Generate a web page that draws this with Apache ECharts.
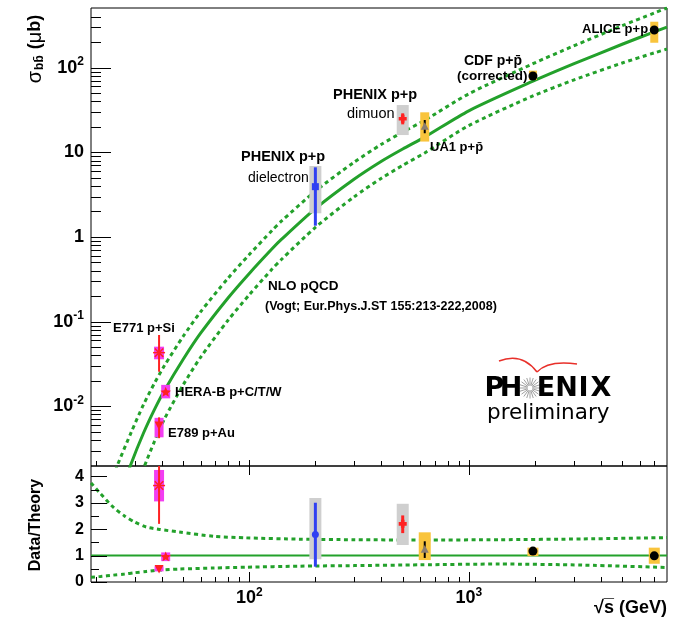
<!DOCTYPE html>
<html>
<head>
<meta charset="utf-8">
<script src="https://cdn.jsdelivr.net/npm/echarts@6/dist/echarts.min.js"></script>
<style>
  html, body { margin: 0; padding: 0; background: #fff; }
  #chart { width: 679px; height: 619px; }
</style>
</head>
<body>
<div id="chart"></div>
<script>
// ---- NLO pQCD b-bbar cross section (μb) vs sqrt(s) (GeV): central value and uncertainty band
const nloSqrtS   = [22, 25, 29, 33, 37, 41, 50, 60, 80, 100, 127, 140, 200, 300, 400, 500, 630, 1000, 1960, 3000, 5000, 7000, 8000];
const nloCentral = [0.000263, 0.000719, 0.002128, 0.004864, 0.009204, 0.01528, 0.03589, 0.07295, 0.1905, 0.3715, 0.7261, 0.9354, 2.163, 4.808, 7.852, 10.96, 15.14, 30.90, 69.18, 110.7, 189.2, 264.9, 302.0];
const nloUpper   = [0.00081, 0.001977, 0.004955, 0.01054, 0.01879, 0.03006, 0.06714, 0.1306, 0.3258, 0.6209, 1.194, 1.535, 3.483, 7.638, 12.45, 17.34, 23.93, 49.09, 111.4, 180.3, 313.3, 442.6, 507.0];
const nloLower   = [0.00006, 0.000201, 0.000703, 0.001849, 0.003864, 0.007031, 0.01795, 0.03793, 0.1038, 0.2080, 0.4178, 0.5420, 1.297, 2.979, 4.943, 7.015, 9.840, 20.70, 46.34, 71.45, 113.5, 149.6, 166.0];

// ---- Band of the theory divided by its central value
const ratioSqrtS = [19, 21, 24, 27, 30, 34, 39, 48, 69, 97, 170, 300, 600, 1380, 3300, 8000];
const ratioUpper = [3.75, 3.34, 2.83, 2.50, 2.27, 2.08, 1.99, 1.89, 1.73, 1.67, 1.62, 1.60, 1.59, 1.60, 1.63, 1.68];
const ratioLower = [0.18, 0.21, 0.26, 0.30, 0.35, 0.40, 0.45, 0.49, 0.53, 0.56, 0.60, 0.62, 0.65, 0.68, 0.64, 0.55];
const ratioUnitySqrtS = [19, 8000];
const ratioUnity      = [1, 1];

// ---- Measurements
const expNames    = ['E771 p+Si', 'E789 p+Au', 'HERA-B p+C/T/W', 'PHENIX p+p dielectron', 'PHENIX p+p dimuon', 'UA1 p+pbar', 'CDF p+pbar', 'ALICE p+p'];
const expSqrtS    = [38.8, 38.8, 41.6, 200, 500, 630, 1960, 7000];
const sigma       = [0.043, 0.0060, 0.0146, 3.93, 24.9, 20.1, 79.8, 278.6];
const sigmaStatLo = [0.0256, 0.0042, null, 1.36, 21.4, 16.8, null, null];
const sigmaStatHi = [0.0695, 0.0074, null, 6.65, 28.9, 24.1, null, null];
const sigmaSysLo  = [0.0359, 0.0043, 0.0124, 1.905, 16.0, 13.4, 71.6, 197];
const sigmaSysHi  = [0.0506, 0.0073, 0.0179, 6.9, 36.2, 29.7, 92.2, 349];
const ratio       = [3.65, 0.51, 0.95, 1.80, 2.20, 1.23, 1.17, 0.99];
const ratioStatLo = [2.2, 0.42, null, 0.58, 1.85, 0.91, null, null];
const ratioStatHi = [5.9, 0.60, null, 3.0, 2.52, 1.54, null, null];
const ratioSysLo  = [3.05, 0.40, 0.79, 0.86, 1.40, 0.83, 0.98, 0.69];
const ratioSysHi  = [4.24, 0.60, 1.12, 3.18, 2.96, 1.88, 1.30, 1.30];

// ---- Axis ranges and tick positions
const X_MIN = 19, X_MAX = 8000;
const Y_MIN = 0.00197, Y_MAX = 507;
const R_MIN = 0, R_MAX = 4.39;
const xMajorTicks = [100, 1000];
const xMinorTicks = [20, 30, 40, 50, 60, 70, 80, 90, 200, 300, 400, 500, 600, 700, 800, 900, 2000, 3000, 4000, 5000, 6000, 7000];
const yMajorTicks = [0.01, 0.1, 1, 10, 100];
const yMinorTicks = [0.003, 0.004, 0.005, 0.006, 0.007, 0.008, 0.009,
                     0.02, 0.03, 0.04, 0.05, 0.06, 0.07, 0.08, 0.09,
                     0.2, 0.3, 0.4, 0.5, 0.6, 0.7, 0.8, 0.9,
                     2, 3, 4, 5, 6, 7, 8, 9,
                     20, 30, 40, 50, 60, 70, 80, 90, 200, 300, 400];
const rMajorTicks = [0, 1, 2, 3, 4];
const rMinorTicks = [0.5, 1.5, 2.5, 3.5];

// ---- Styles
const GREEN = '#23a12b';
const DOTS = [4, 3.5];
const MAGENTA = '#f23ef2', GREY = '#cfcfcf', GOLD = '#f9c43c', RED = '#ff2222', BLUE = '#3040f2';
const markerShape      = ['asterisk', 'triangleDown', 'star', 'square', 'cross', 'triangleUp', 'circle', 'circle'];
const markerShapeRatio = ['asterisk', 'triangleDown', 'star', 'circle', 'cross', 'triangleUp', 'circle', 'circle'];
const markerSize  = [12, 9, 11, 7, 8, 8, 9, 9];
const markerColor = [RED, RED, RED, BLUE, RED, '#8b7d70', '#000', '#000'];
const statColor   = [RED, RED, RED, BLUE, RED, '#000', '#000', '#000'];
const statWidth   = [2, 2, 2, 3, 3, 2, 2, 2];
const boxColor    = [MAGENTA, MAGENTA, MAGENTA, GREY, GREY, GOLD, GOLD, GOLD];
const boxWidthTop   = [10, 9, 9, 12, 12, 9, 8, 8];
const boxWidthRatio = [10, 9, 9, 12, 12, 12, 11, 11];

const SANS = '"Liberation Sans", Arial, sans-serif';
const LOGO = '"DejaVu Sans", sans-serif';
const bold = s => `bold ${s}px ${SANS}`;
const plain = s => `${s}px ${SANS}`;
const richBold = s => ({ fontSize: s, fontWeight: 'bold', fontFamily: SANS, color: '#000' });

const zip = (a, b) => a.map((v, i) => [v, b[i]]);

function powerLabel(v) {
  const l = Math.log10(v);
  const e = Math.round(l);
  if (Math.abs(l - e) > 1e-6) return '';
  if (e === 0) return '{b|1}';
  if (e === 1) return '{b|10}';
  return '{b|10}{s|' + e + '}';
}
const powerRich = {
  b: richBold(18),
  s: Object.assign(richBold(12), { padding: [0, 0, 11, 0] })
};

function markerEl(shape, x, y, s, color) {
  const r = s / 2;
  switch (shape) {
    case 'circle':
      return { type: 'circle', shape: { cx: x, cy: y, r: r }, style: { fill: color } };
    case 'square':
      return { type: 'rect', shape: { x: x - r, y: y - r, width: s, height: s }, style: { fill: color } };
    case 'triangleUp':
      return { type: 'polygon', shape: { points: [[x, y - r * 1.1], [x + r, y + r * 0.8], [x - r, y + r * 0.8]] }, style: { fill: color } };
    case 'triangleDown':
      return { type: 'polygon', shape: { points: [[x, y + r * 1.1], [x + r, y - r * 0.8], [x - r, y - r * 0.8]] }, style: { fill: color } };
    case 'star': {
      const pts = [];
      for (let k = 0; k < 10; k++) {
        const a = -Math.PI / 2 + k * Math.PI / 5;
        const rr = k % 2 === 0 ? r : r * 0.45;
        pts.push([x + rr * Math.cos(a), y + rr * Math.sin(a)]);
      }
      return { type: 'polygon', shape: { points: pts }, style: { fill: color } };
    }
    case 'cross': {
      const w = s * 0.22;
      return { type: 'polygon', shape: { points: [
        [x - w, y - r], [x + w, y - r], [x + w, y - w], [x + r, y - w], [x + r, y + w], [x + w, y + w],
        [x + w, y + r], [x - w, y + r], [x - w, y + w], [x - r, y + w], [x - r, y - w], [x - w, y - w]] },
        style: { fill: color } };
    }
    case 'asterisk': {
      const lines = [];
      for (let k = 0; k < 4; k++) {
        const a = k * Math.PI / 4;
        lines.push({ type: 'line', shape: { x1: x - r * Math.cos(a), y1: y - r * Math.sin(a), x2: x + r * Math.cos(a), y2: y + r * Math.sin(a) },
          style: { stroke: color, lineWidth: 1.5 } });
      }
      return { type: 'group', children: lines };
    }
  }
}

function pointRenderer(P) {
  return function (params, api) {
    const i = params.dataIndex;
    const x = api.value(0);
    const c = api.coord([x, api.value(1)]);
    const kids = [];
    if (P.sysLo[i] != null) {
      const t = api.coord([x, P.sysHi[i]])[1];
      const b = api.coord([x, P.sysLo[i]])[1];
      const w = P.boxWidth[i];
      kids.push({ type: 'rect', shape: { x: c[0] - w / 2, y: t, width: w, height: b - t }, style: { fill: boxColor[i] } });
    }
    if (P.statLo[i] != null) {
      const t = api.coord([x, P.statHi[i]])[1];
      const b = api.coord([x, P.statLo[i]])[1];
      kids.push({ type: 'line', shape: { x1: c[0], y1: t, x2: c[0], y2: b }, style: { stroke: statColor[i], lineWidth: statWidth[i] } });
    }
    kids.push(markerEl(P.shape[i], c[0], c[1], markerSize[i], markerColor[i]));
    return { type: 'group', children: kids };
  };
}

// tick marks drawn through the axis scales; dim = which axis the values belong to
function tickSeries(xi, yi, dim, values, anchor, inward, outward) {
  return {
    type: 'custom', xAxisIndex: xi, yAxisIndex: yi, silent: true, z: 10, clip: false,
    data: values.map(v => dim === 'x' ? [v, anchor] : [anchor, v]),
    renderItem: (params, api) => {
      const p = api.coord([api.value(0), api.value(1)]);
      if (dim === 'x') {
        const px = Math.round(p[0]) + 0.5;
        return { type: 'line', shape: { x1: px, y1: p[1] + outward, x2: px, y2: p[1] - inward }, style: { stroke: '#000', lineWidth: 1 } };
      }
      const py = Math.round(p[1]) + 0.5;
      return { type: 'line', shape: { x1: p[0] - outward, y1: py, x2: p[0] + inward, y2: py }, style: { stroke: '#000', lineWidth: 1 } };
    }
  };
}

function bandLine(xi, yi, xs, ys, dotted, width) {
  return {
    type: 'line', xAxisIndex: xi, yAxisIndex: yi, data: zip(xs, ys), showSymbol: false, symbol: 'none',
    smooth: 0.25, clip: true, silent: true, z: 2,
    lineStyle: { color: GREEN, width: width, type: dotted ? DOTS : 'solid', cap: 'butt' }
  };
}

function text(x, y, t, font, align, extra) {
  return Object.assign({ type: 'text', x: x, y: y, silent: true, z: 20,
    style: { text: t, font: font, fill: '#000', align: align || 'left', verticalAlign: 'middle',
             textAlign: align || 'left', textVerticalAlign: 'middle' } }, extra || {});
}

// PHENIX logo: letters placed one by one, with a starburst in place of the O
const logoLetters = [['P', 494.5], ['H', 511], ['E', 546], ['N', 566.5], ['I', 583.5], ['X', 601]];
const logoEls = logoLetters.map(([ch, cx]) => text(cx, 389, ch, `bold 27px ${LOGO}`, 'center'));
const starRays = [];
for (let k = 0; k < 20; k++) {
  const a = k * Math.PI / 10;
  starRays.push({ type: 'line', shape: { x1: 530 + 2.5 * Math.cos(a), y1: 388 + 2.5 * Math.sin(a), x2: 530 + 10.5 * Math.cos(a), y2: 388 + 10.5 * Math.sin(a) },
    style: { stroke: '#a0a0a0', lineWidth: 1 } });
}

const option = {
  animation: false,
  backgroundColor: '#fff',
  textStyle: { fontFamily: SANS },
  grid: [
    { left: 91, right: 12, top: 8, height: 458, show: true, borderColor: '#000', borderWidth: 1, backgroundColor: 'transparent' },
    { left: 91, right: 12, top: 466, height: 116, show: true, borderColor: '#000', borderWidth: 1, backgroundColor: 'transparent' }
  ],
  xAxis: [
    { gridIndex: 0, type: 'log', logBase: 10, min: X_MIN, max: X_MAX,
      axisLine: { show: false }, axisTick: { show: false }, axisLabel: { show: false }, splitLine: { show: false } },
    { gridIndex: 1, type: 'log', logBase: 10, min: X_MIN, max: X_MAX,
      axisLine: { show: false }, axisTick: { show: false }, splitLine: { show: false },
      axisLabel: { show: true, margin: 5, formatter: powerLabel, showMinLabel: false, showMaxLabel: false, rich: powerRich } }
  ],
  yAxis: [
    { gridIndex: 0, type: 'log', logBase: 10, min: Y_MIN, max: Y_MAX,
      axisLine: { show: false }, axisTick: { show: false }, splitLine: { show: false },
      axisLabel: { show: true, margin: 7, formatter: powerLabel, showMinLabel: false, showMaxLabel: false, rich: powerRich } },
    { gridIndex: 1, type: 'value', min: R_MIN, max: R_MAX, interval: 1,
      axisLine: { show: false }, axisTick: { show: false }, splitLine: { show: false },
      axisLabel: { show: true, margin: 7, color: '#000', fontWeight: 'bold', fontSize: 16, fontFamily: SANS,
        formatter: v => (Math.abs(v - Math.round(v)) < 1e-9 ? String(Math.round(v)) : '') } }
  ],
  series: [
    bandLine(0, 0, nloSqrtS, nloUpper, true, 3),
    bandLine(0, 0, nloSqrtS, nloLower, true, 3),
    bandLine(0, 0, nloSqrtS, nloCentral, false, 3),
    bandLine(1, 1, ratioSqrtS, ratioUpper, true, 3),
    bandLine(1, 1, ratioSqrtS, ratioLower, true, 3),
    bandLine(1, 1, ratioUnitySqrtS, ratioUnity, false, 2),
    {
      type: 'custom', xAxisIndex: 0, yAxisIndex: 0, z: 4, clip: true, silent: true,
      data: zip(expSqrtS, sigma),
      renderItem: pointRenderer({ statLo: sigmaStatLo, statHi: sigmaStatHi, sysLo: sigmaSysLo, sysHi: sigmaSysHi, boxWidth: boxWidthTop, shape: markerShape })
    },
    {
      type: 'custom', xAxisIndex: 1, yAxisIndex: 1, z: 4, clip: true, silent: true,
      data: zip(expSqrtS, ratio),
      renderItem: pointRenderer({ statLo: ratioStatLo, statHi: ratioStatHi, sysLo: ratioSysLo, sysHi: ratioSysHi, boxWidth: boxWidthRatio, shape: markerShapeRatio })
    },
    // ticks of the upper panel
    tickSeries(0, 0, 'x', xMajorTicks, Y_MIN, 6, 9),
    tickSeries(0, 0, 'x', xMinorTicks, Y_MIN, 5, 0),
    tickSeries(0, 0, 'y', yMajorTicks, X_MIN, 20, 0),
    tickSeries(0, 0, 'y', yMinorTicks, X_MIN, 10, 0),
    // ticks of the ratio panel
    tickSeries(1, 1, 'x', xMajorTicks, R_MIN, 10, 0),
    tickSeries(1, 1, 'x', xMinorTicks, R_MIN, 5, 0),
    tickSeries(1, 1, 'y', rMajorTicks, X_MIN, 16, 0),
    tickSeries(1, 1, 'y', rMinorTicks, X_MIN, 8, 0)
  ],
  graphic: [
    // axis titles
    text(35, 49, '', bold(18), 'center', {
      rotation: Math.PI / 2,
      style: { text: '{g|σ}{sub|bb\u0304}{t| (}{g|μ}{t|b)}', align: 'center', verticalAlign: 'middle', textAlign: 'center', textVerticalAlign: 'middle',
        rich: { g: { fontSize: 20, fontFamily: SANS, color: '#000' },
                sub: Object.assign(richBold(12), { padding: [10, 1, 0, 1] }),
                t: richBold(18) } } }),
    text(36, 525, 'Data/Theory', bold(16), 'center', { rotation: Math.PI / 2 }),
    text(667, 608, '\u221As\u0305 (GeV)', bold(18), 'right'),
    // experiment labels
    text(113, 328, 'E771 p+Si', bold(13)),
    text(175, 392, 'HERA-B p+C/T/W', bold(13)),
    text(168, 433, 'E789 p+Au', bold(13)),
    text(241, 157, 'PHENIX p+p', bold(14.5)),
    text(248, 178, 'dielectron', plain(14)),
    text(333, 95, 'PHENIX p+p', bold(14.5)),
    text(347, 114, 'dimuon', plain(14.5)),
    text(430, 147, 'UA1 p+p\u0304', bold(13)),
    text(464, 61, 'CDF p+p\u0304', bold(14)),
    text(457, 76, '(corrected)', bold(13.5)),
    text(582, 29, 'ALICE p+p', bold(13)),
    text(268, 286, 'NLO pQCD', bold(13.5)),
    text(265, 306.5, '(Vogt; Eur.Phys.J.ST 155:213-222,2008)', bold(12.5)),
    // PHENIX preliminary logo
    { type: 'bezierCurve', silent: true, z: 20, shape: { x1: 499, y1: 361, cpx1: 522, cpy1: 352, x2: 537, y2: 372 },
      style: { stroke: '#e8302a', lineWidth: 1.6, fill: null } },
    { type: 'bezierCurve', silent: true, z: 20, shape: { x1: 537, y1: 372, cpx1: 548, cpy1: 360, x2: 577, y2: 364 },
      style: { stroke: '#e8302a', lineWidth: 1.6, fill: null } },
    ...logoEls,
    { type: 'group', silent: true, z: 20, children: starRays },
    text(487, 413, 'preliminary', `21.5px ${LOGO}`)
  ]
};

const chart = echarts.init(document.getElementById('chart'));
chart.setOption(option);
</script>
</body>
</html>
